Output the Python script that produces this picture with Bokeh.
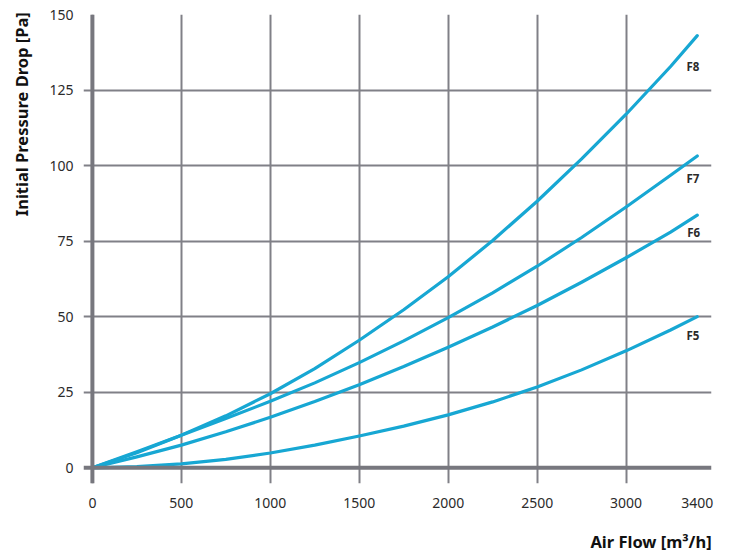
from bokeh.plotting import figure
from bokeh.models import FixedTicker, Span, LinearAxis, ColumnDataSource
from bokeh.core.properties import value
from bokeh.embed import file_html
from bokeh.resources import INLINE

airflow = [0, 250, 500, 750, 1000, 1250, 1500, 1750, 2000, 2250, 2500, 2750, 3000, 3250, 3400]
f8 = [0, 5, 10.8, 17.2, 24.5, 32.8, 42.2, 52.3, 63.2, 75.2, 88.2, 102.2, 117, 132.8, 143]
f7 = [0, 5.3, 10.8, 16.3, 22, 28.1, 34.8, 42, 49.7, 57.9, 66.7, 76.2, 86.3, 96.8, 103.2]
f6 = [0, 3.6, 7.5, 11.9, 16.7, 21.9, 27.5, 33.5, 39.9, 46.6, 53.7, 61.4, 69.5, 78, 83.6]
f5 = [0, 0.4, 1.3, 2.8, 4.9, 7.5, 10.5, 13.8, 17.5, 21.8, 26.7, 32.4, 38.7, 45.6, 50]

series_names = ["F8", "F7", "F6", "F5"]
label_x = [3376, 3376, 3380, 3376]
label_y = [132.7, 95.8, 78, 43.7]

x_ticks = [0, 500, 1000, 1500, 2000, 2500, 3000, 3400]
x_grid = [0, 500, 1000, 1500, 2000, 2500, 3000]
y_ticks = [0, 25, 50, 75, 100, 125, 150]
y_grid = [25, 50, 75, 100, 125]

x_title = "Air Flow [m³/h]"
y_title = "Initial Pressure Drop [Pa]"

LINE = "#17a7d3"
GRID = "#808087"
AXIS = "#77777e"
TXT = "#2b2b2b"
FONT = "Noto Sans"

p = figure(width=714, height=555, output_backend="svg", toolbar_location=None,
           x_range=(-50, 3480), y_range=(-5.2, 150),
           min_border_left=83, min_border_right=3, min_border_top=14, min_border_bottom=60)
p.outline_line_color = None
p.background_fill_color = "white"

p.xgrid.ticker = FixedTicker(ticks=x_grid)
p.ygrid.ticker = FixedTicker(ticks=y_grid)
for g in (p.xgrid, p.ygrid):
    g.grid_line_color = GRID
    g.grid_line_width = 2

p.xaxis.ticker = FixedTicker(ticks=x_ticks)
p.yaxis.ticker = FixedTicker(ticks=y_ticks)
for ax in (p.xaxis, p.yaxis):
    ax.axis_line_color = None
    ax.major_tick_line_color = None
    ax.minor_tick_line_color = None
    ax.major_label_text_font = FONT
    ax.major_label_text_font_size = "14px"
    ax.major_label_text_color = TXT
p.xaxis.major_label_standoff = 8
p.yaxis.major_label_standoff = 4

# axis titles drawn as single-label axes so they sit outside the frame
xt = LinearAxis(ticker=FixedTicker(ticks=[3140]), major_label_overrides={3140: x_title},
                major_label_standoff=13)
yt = LinearAxis(ticker=FixedTicker(ticks=[117]), major_label_overrides={117: y_title},
                major_label_standoff=7, major_label_orientation="vertical")
for ax in (xt, yt):
    ax.axis_line_color = None
    ax.major_tick_line_color = None
    ax.minor_tick_line_color = None
    ax.major_label_text_font = FONT
    ax.major_label_text_font_size = "16.5px"
    ax.major_label_text_font_style = "bold"
    ax.major_label_text_color = "#111111"
p.add_layout(xt, "below")
p.add_layout(yt, "left")

p.add_layout(Span(location=0, dimension="height", line_color=AXIS, line_width=4))
p.add_layout(Span(location=0, dimension="width", line_color=AXIS, line_width=4))

for ys in (f8, f7, f6, f5):
    p.line(airflow, ys, line_color=LINE, line_width=3.2, line_cap="round", line_join="round")

lab = ColumnDataSource(dict(x=label_x, y=label_y, t=series_names))
p.text(x="x", y="y", text="t", source=lab, text_font=value(FONT), text_font_size="11.5px",
       text_font_style="bold", text_color=TXT, text_align="center", text_baseline="middle")

open("out.html", "w").write(file_html(p, INLINE))
